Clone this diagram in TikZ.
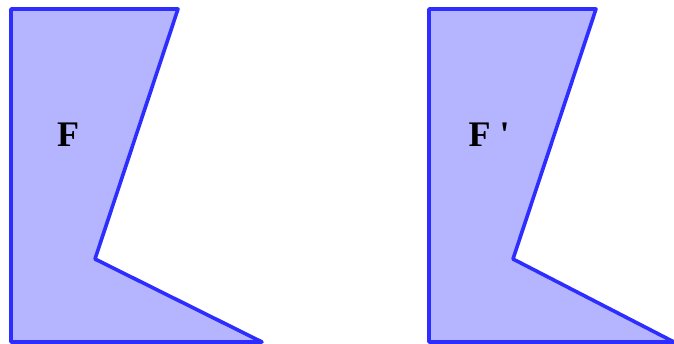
\documentclass[tikz,border=0pt]{standalone}
\usepackage{fontspec}
\setmainfont{Liberation Serif}
\begin{document}
\begin{tikzpicture}[x=1pt,y=-1pt,
  shapeF/.style={fill={rgb,255:red,180;green,180;blue,255},draw={rgb,255:red,45;green,45;blue,255},line width=3.6pt,line join=round},
  lbl/.style={font=\fontsize{36}{40}\selectfont\bfseries,inner sep=0pt}]
\useasboundingbox (0,0) rectangle (674,344);
\draw[shapeF] (11,9) -- (178,9) -- (95,259) -- (262,342) -- (11,342) -- cycle;
\draw[shapeF] (429,9) -- (596,9) -- (513,259) -- (674,342) -- (429,342) -- cycle;
\node[lbl] (f) at (68,135) {F};
\node[lbl] (fp) at (489,135) {F \textquotesingle};
\end{tikzpicture}
\end{document}
